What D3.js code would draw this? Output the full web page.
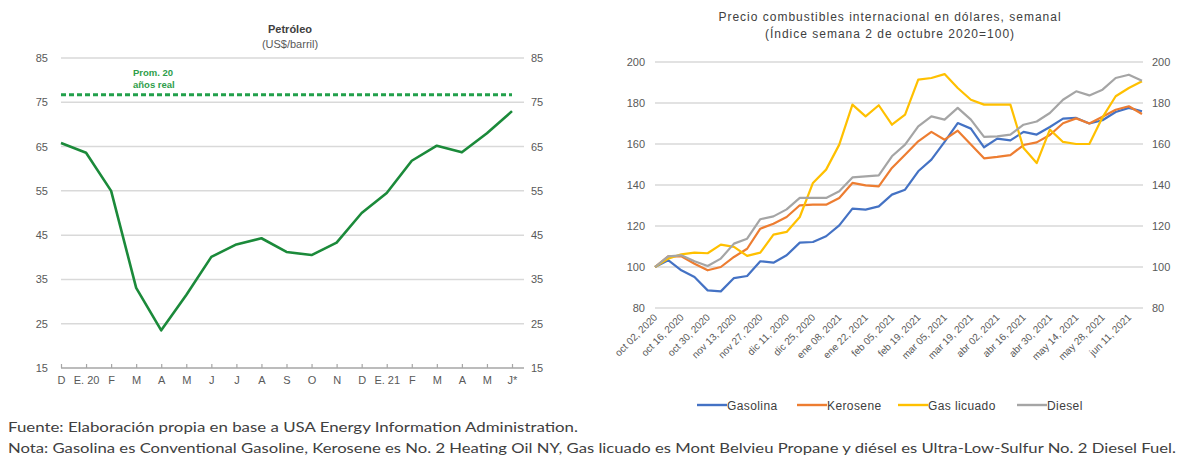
<!DOCTYPE html>
<html>
<head>
<meta charset="utf-8">
<script src="https://cdn.jsdelivr.net/npm/d3@7"></script>
<style>
  html, body { margin: 0; padding: 0; background: #fff; }
  svg { display: block; font-family: "Liberation Sans", Arial, sans-serif; }
</style>
</head>
<body>
<svg id="chart"></svg>
<script>
// Panel izquierdo: Petróleo (US$/barril), mensual
const meses = ["D", "E. 20", "F", "M", "A", "M", "J", "J", "A", "S", "O", "N", "D", "E. 21", "F", "M", "A", "M", "J*"];
const petroleo = [65.8, 63.6, 55, 33.1, 23.5, 31.5, 40.1, 42.9, 44.3, 41.2, 40.5, 43.3, 50, 54.5, 61.8, 65.2, 63.7, 68, 73];
const promedio20 = 76.7;
const ticksPetroleo = [15, 25, 35, 45, 55, 65, 75, 85];

// Panel derecho: índice semanal (2 oct 2020 = 100)
const semanas = [
  "oct 02, 2020", "oct 09, 2020", "oct 16, 2020", "oct 23, 2020", "oct 30, 2020",
  "nov 06, 2020", "nov 13, 2020", "nov 20, 2020", "nov 27, 2020",
  "dic 04, 2020", "dic 11, 2020", "dic 18, 2020", "dic 25, 2020",
  "ene 01, 2021", "ene 08, 2021", "ene 15, 2021", "ene 22, 2021", "ene 29, 2021",
  "feb 05, 2021", "feb 12, 2021", "feb 19, 2021", "feb 26, 2021",
  "mar 05, 2021", "mar 12, 2021", "mar 19, 2021", "mar 26, 2021",
  "abr 02, 2021", "abr 09, 2021", "abr 16, 2021", "abr 23, 2021", "abr 30, 2021",
  "may 07, 2021", "may 14, 2021", "may 21, 2021", "may 28, 2021",
  "jun 04, 2021", "jun 11, 2021", "jun 18, 2021"
];
const gasolina = [100, 103.3, 98.4, 95.1, 88.6, 88.1, 94.6, 95.6, 102.8, 102.1, 105.7, 111.9, 112.2,
  115, 120.3, 128.5, 128, 129.6, 135.3, 137.7, 146.7, 152.4, 161, 170.2, 167.5,
  158.4, 162.6, 161.8, 165.9, 164.6, 168.3, 172.4, 172.7, 170, 171.6, 175.6, 177.6, 176];
const kerosene = [100, 105.2, 105.2, 101.6, 98.4, 100, 104.9, 108.9, 118.7, 121.1, 124.4, 130.1, 130.4,
  130.4, 133.7, 141, 139.8, 139.3, 148.3, 154.8, 161.3, 165.9, 162.1, 166.5, 159.7,
  153, 153.7, 154.6, 159.5, 160.8, 164.4, 170.1, 172.5, 170, 173.3, 176.7, 178.4, 174.6];
const gasLicuado = [100, 104.1, 106.2, 107, 106.7, 110.9, 109.8, 105.4, 107, 115.8, 117.1, 124.4, 141,
  147.5, 159.7, 179.2, 173.5, 178.9, 169.4, 174.3, 191.4, 192.2, 194.1, 187.3, 181.6,
  179.2, 179.2, 179.2, 158, 150.7, 167, 161, 160, 160, 173, 183.3, 187.3, 190.6];
const diesel = [100, 105.2, 105.7, 102.8, 100.5, 104.1, 111.4, 113.8, 123.3, 124.7, 128.1, 133.7, 133.7,
  133.7, 136.9, 143.7, 144.2, 144.7, 154, 159.7, 168.6, 173.5, 171.9, 177.6, 171.9,
  163.5, 163.7, 164.6, 169.4, 171, 175.1, 181.6, 185.7, 183.7, 186.5, 192.2, 193.8, 190.9];
const nombresSeries = ["Gasolina", "Kerosene", "Gas licuado", "Diesel"];
const coloresSeries = ["#4472C4", "#ED7D31", "#FFC000", "#A5A5A5"];
const ticksIndice = [80, 100, 120, 140, 160, 180, 200];

const width = 1185;
const height = 457;
const gridColor = "#d9d9d9";
const labelColor = "#595959";

const svg = d3.select("#chart")
    .attr("width", width)
    .attr("height", height);

// ---------- Petróleo ----------
const xL = d3.scalePoint().domain(d3.range(meses.length)).range([61, 512]);
const yL = d3.scaleLinear().domain([15, 85]).range([368, 58]);
const left = svg.append("g");

left.append("text").attr("x", 290).attr("y", 33).attr("text-anchor", "middle")
    .attr("font-size", 11).attr("font-weight", "bold").attr("fill", "#404040").text("Petróleo");
left.append("text").attr("x", 290).attr("y", 48).attr("text-anchor", "middle")
    .attr("font-size", 11).attr("fill", "#595959").text("(US$/barril)");

left.selectAll("line.grid").data(ticksPetroleo.slice(1)).enter().append("line")
    .attr("x1", 61).attr("x2", 524)
    .attr("y1", d => yL(d)).attr("y2", d => yL(d))
    .attr("stroke", gridColor).attr("stroke-width", 1.5);

left.selectAll("text.yl").data(ticksPetroleo).enter().append("text")
    .attr("x", 48).attr("y", d => yL(d) + 4).attr("text-anchor", "end")
    .attr("font-size", 11).attr("fill", labelColor).text(d => d);
left.selectAll("text.yr").data(ticksPetroleo).enter().append("text")
    .attr("x", 531).attr("y", d => yL(d) + 4)
    .attr("font-size", 11).attr("fill", labelColor).text(d => d);

// eje inferior con marcas
const axisL = left.append("g").attr("transform", `translate(0,${yL(15)})`)
    .call(d3.axisBottom(xL).tickSize(-4).tickFormat(i => meses[i]));
axisL.select(".domain").attr("d", "M61,0H524").attr("stroke", "#a6a6a6").attr("stroke-width", 1.5);
axisL.selectAll(".tick line").attr("stroke", "#a6a6a6").attr("stroke-width", 1.2);
axisL.selectAll(".tick text").attr("dy", "1.2em").attr("font-size", 11)
    .attr("fill", labelColor).attr("font-family", "Liberation Sans, Arial, sans-serif");

// promedio 20 años
left.append("line")
    .attr("x1", xL(0)).attr("x2", xL(meses.length - 1))
    .attr("y1", yL(promedio20)).attr("y2", yL(promedio20))
    .attr("stroke", "#22a04b").attr("stroke-width", 3).attr("stroke-dasharray", "5,3");
left.append("text").attr("x", 133).attr("y", 76).attr("font-size", 9.5).attr("font-weight", "bold")
    .attr("fill", "#2e9e4a").text("Prom. 20");
left.append("text").attr("x", 133).attr("y", 88).attr("font-size", 9.5).attr("font-weight", "bold")
    .attr("fill", "#2e9e4a").text("años real");

left.append("path").datum(petroleo)
    .attr("fill", "none").attr("stroke", "#1b8a3a").attr("stroke-width", 2.6)
    .attr("stroke-linejoin", "round")
    .attr("d", d3.line().x((d, i) => xL(i)).y(d => yL(d)));

// ---------- Combustibles ----------
const xR = d3.scalePoint().domain(d3.range(semanas.length)).range([655, 1142]);
const yR = d3.scaleLinear().domain([80, 200]).range([308, 62]);
const right = svg.append("g");

right.append("text").attr("x", 890).attr("y", 21).attr("text-anchor", "middle")
    .attr("font-size", 12).attr("letter-spacing", 1).attr("fill", "#404040")
    .text("Precio combustibles internacional en dólares, semanal");
right.append("text").attr("x", 890).attr("y", 38).attr("text-anchor", "middle")
    .attr("font-size", 12).attr("letter-spacing", 1).attr("fill", "#404040")
    .text("(Índice semana 2 de octubre 2020=100)");

right.selectAll("line.grid").data(ticksIndice).enter().append("line")
    .attr("x1", 655).attr("x2", 1143)
    .attr("y1", d => yR(d)).attr("y2", d => yR(d))
    .attr("stroke", gridColor).attr("stroke-width", 1.5);

right.selectAll("text.yl").data(ticksIndice).enter().append("text")
    .attr("x", 645).attr("y", d => yR(d) + 4).attr("text-anchor", "end")
    .attr("font-size", 11).attr("fill", labelColor).text(d => d);
right.selectAll("text.yr").data(ticksIndice).enter().append("text")
    .attr("x", 1152).attr("y", d => yR(d) + 4)
    .attr("font-size", 11).attr("fill", labelColor).text(d => d);

// etiquetas de fecha cada dos semanas
right.selectAll("text.fecha").data(semanas.filter((d, i) => i % 2 === 0)).enter().append("text")
    .attr("transform", (d, i) => `translate(${xR(i * 2) + 3},${318}) rotate(-45)`)
    .attr("text-anchor", "end").attr("font-size", 10).attr("fill", labelColor)
    .text(d => d);

const lineR = d3.line().x((d, i) => xR(i)).y(d => yR(d)).curve(d3.curveLinear);
[gasolina, kerosene, gasLicuado, diesel].forEach((serie, k) => {
  right.append("path").datum(serie)
      .attr("fill", "none").attr("stroke", coloresSeries[k]).attr("stroke-width", 2.2)
      .attr("stroke-linejoin", "round")
      .attr("d", lineR);
});

// leyenda
const legendX = [697, 797, 898, 1017];
const legend = right.selectAll("g.leg").data(nombresSeries).enter().append("g")
    .attr("transform", (d, i) => `translate(${legendX[i]},405)`);
legend.append("line").attr("x1", 0).attr("x2", 30).attr("y1", 0).attr("y2", 0)
    .attr("stroke", (d, i) => coloresSeries[i]).attr("stroke-width", 2.4);
legend.append("text").attr("x", 30).attr("y", 4.5).attr("font-size", 12)
    .attr("letter-spacing", 0.4).attr("fill", "#404040").text(d => d);

// ---------- Notas ----------
const notas = [
  "Fuente: Elaboración propia en base a USA Energy Information Administration.",
  "Nota: Gasolina es Conventional Gasoline, Kerosene es No. 2 Heating Oil NY, Gas licuado es Mont Belvieu Propane y diésel es Ultra-Low-Sulfur No. 2 Diesel Fuel."
];
const notasAncho = [570, 1168];
svg.selectAll("text.nota").data(notas).enter().append("text")
    .attr("x", 8).attr("y", (d, i) => 432 + i * 21)
    .attr("font-size", 14).attr("fill", "#404040")
    .attr("font-family", "Lato, sans-serif")
    .attr("textLength", (d, i) => notasAncho[i]).attr("lengthAdjust", "spacingAndGlyphs")
    .text(d => d);
</script>
</body>
</html>
